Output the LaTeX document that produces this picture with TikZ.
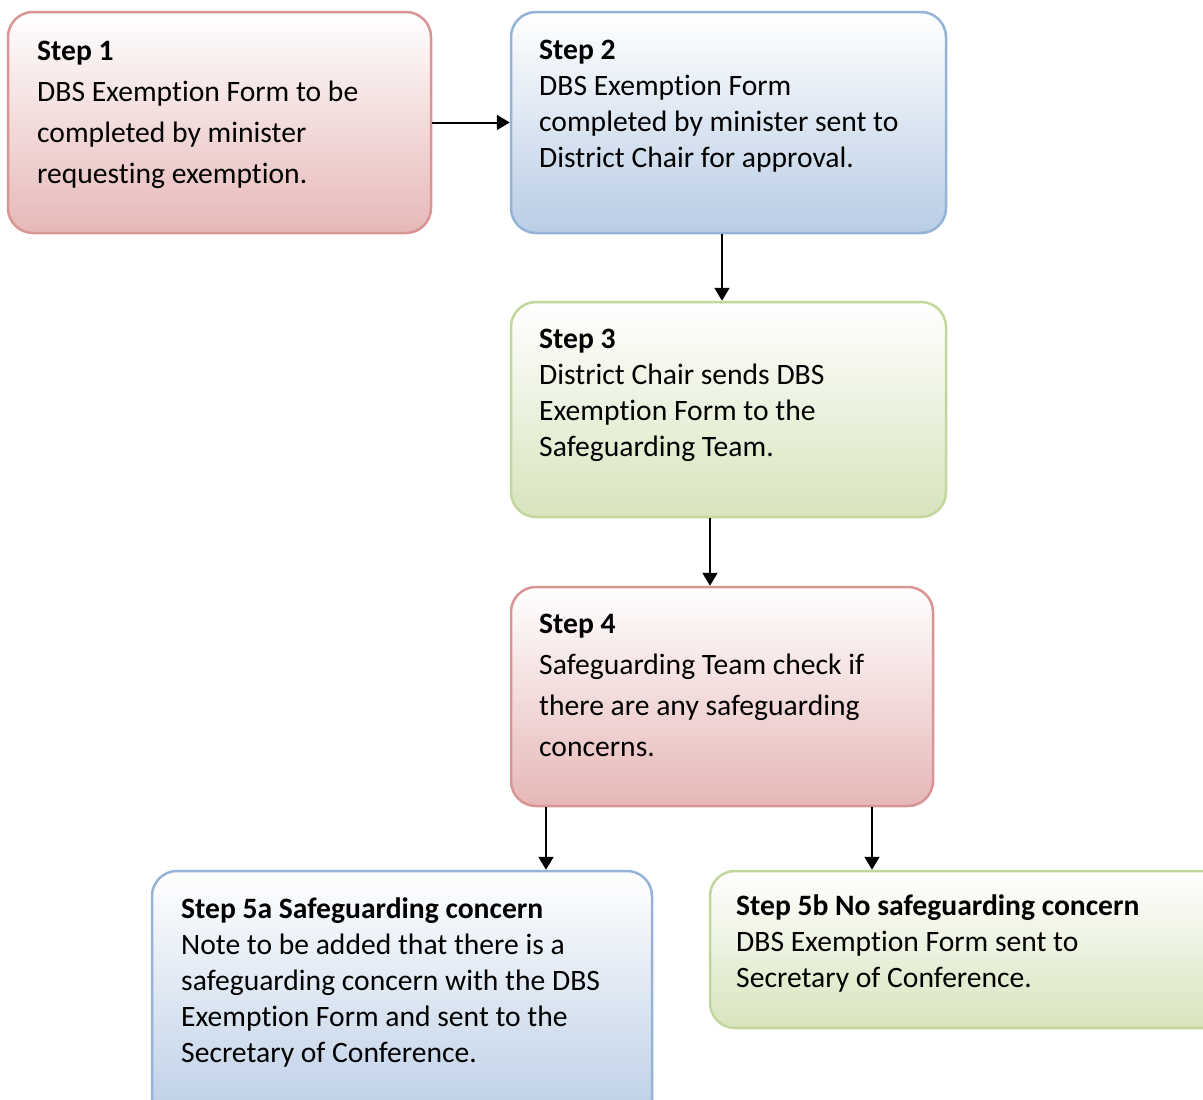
\documentclass[tikz,border=0pt]{standalone}
\usepackage{fontspec}
\setmainfont[Ligatures={NoCommon}]{Carlito}
\usetikzlibrary{arrows.meta}
\definecolor{redline}{RGB}{217,149,148}
\definecolor{redfill}{RGB}{230,184,183}
\definecolor{blueline}{RGB}{149,179,215}
\definecolor{bluefill}{RGB}{185,205,229}
\definecolor{greenline}{RGB}{195,214,155}
\definecolor{greenfill}{RGB}{215,228,189}
\tikzset{
  box/.style={rectangle, rounded corners=25pt, line width=2.5pt, inner sep=0pt},
  redbox/.style={box, draw=redline, top color=white, bottom color=redfill},
  bluebox/.style={box, draw=blueline, top color=white, bottom color=bluefill},
  greenbox/.style={box, draw=greenline, top color=white, bottom color=greenfill},
  txtA/.style={anchor=north west, inner sep=0pt, align=left, font=\fontsize{29.6}{36}\selectfont},
  txtB/.style={anchor=north west, inner sep=0pt, align=left, font=\fontsize{29.6}{41}\selectfont},
  arr/.style={line width=2pt, -{Triangle[width=15pt,length=13pt]}}
}
\begin{document}
\begin{tikzpicture}[x=1pt,y=-1pt]
\useasboundingbox (0,0) rectangle (1203,1100);
\clip (0,0) rectangle (1203,1100);
% boxes
\node[redbox, minimum width=423pt, minimum height=221pt] (b1) at (219.5,122.5) {};
\node[bluebox, minimum width=435pt, minimum height=221pt] (b2) at (728.5,122.5) {};
\node[greenbox, minimum width=435pt, minimum height=215pt] (b3) at (728.5,409.5) {};
\node[redbox, minimum width=422pt, minimum height=219pt] (b4) at (722,696.5) {};
\node[bluebox, minimum width=500pt, minimum height=260pt] (b5a) at (402,1001) {};
\node[greenbox, minimum width=530pt, minimum height=157pt] (b5b) at (975,949.5) {};
% texts
\node[txtB] (t1) at (37,31.8) {\strut\textbf{Step 1}\\DBS Exemption Form to be\\completed by minister\\requesting exemption.};
\node[txtA] (t2) at (539,33.8) {\strut\textbf{Step 2}\\DBS Exemption Form\\completed by minister sent to\\District Chair for approval.};
\node[txtA] (t3) at (539,322.8) {\strut\textbf{Step 3}\\District Chair sends DBS\\Exemption Form to the\\Safeguarding Team.};
\node[txtB] (t4) at (539,604.8) {\strut\textbf{Step 4}\\Safeguarding Team check if\\there are any safeguarding\\concerns.};
\node[txtA] (t5a) at (181,892.8) {\strut\textbf{Step 5a Safeguarding concern}\\Note to be added that there is a\\safeguarding concern with the DBS\\Exemption Form and sent to the\\Secretary of Conference.};
\node[txtA] (t5b) at (736,889.8) {\strut\textbf{Step 5b No safeguarding concern}\\DBS Exemption Form sent to\\Secretary of Conference.};
% connectors
\draw[arr] (b1) -- (b2);
\draw[arr] ([xshift=-6.5pt]b2.south) coordinate (s2) -- (s2 |- b3.north);
\draw[arr] ([xshift=-18.5pt]b3.south) coordinate (s3) -- (s3 |- b4.north);
\draw[arr] ([xshift=-176pt]b4.south) coordinate (s4a) -- (s4a |- b5a.north);
\draw[arr] ([xshift=150pt]b4.south) coordinate (s4b) -- (s4b |- b5b.north);
\end{tikzpicture}
\end{document}
